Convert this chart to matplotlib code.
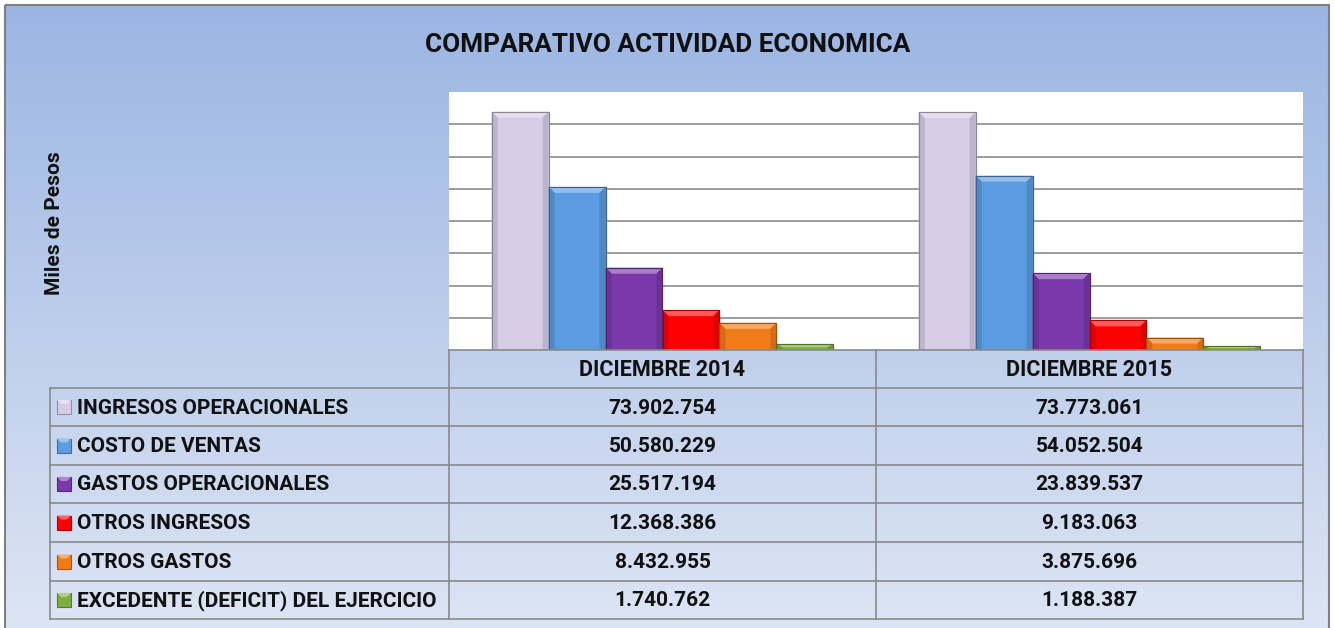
import numpy as np
import matplotlib as mpl
mpl.use('Agg')
import matplotlib.pyplot as plt
from matplotlib.patches import Rectangle, Polygon
from matplotlib.colors import to_rgb

plt.rcParams['font.family'] = ['Roboto', 'DejaVu Sans']

# ---- data ----
periods = ['DICIEMBRE 2014', 'DICIEMBRE 2015']
series = ['INGRESOS OPERACIONALES', 'COSTO DE VENTAS', 'GASTOS OPERACIONALES',
          'OTROS INGRESOS', 'OTROS GASTOS', 'EXCEDENTE (DEFICIT) DEL EJERCICIO']
values_2014 = [73902754, 50580229, 25517194, 12368386, 8432955, 1740762]
values_2015 = [73773061, 54052504, 23839537, 9183063, 3875696, 1188387]
colors = ['#D6CCE6', '#5B9BDF', '#7A38A8', '#FF0000', '#F07B18', '#7EAE3E']

title = 'COMPARATIVO ACTIVIDAD ECONOMICA'
ylabel = 'Miles de Pesos'

W, H = 1335, 628


def fmt(v):
    return f'{v:,}'.replace(',', '.')


def mix(c, other, t):
    a = np.array(to_rgb(c))
    b = np.array(to_rgb(other))
    return tuple(a * (1 - t) + b * t)


fig = plt.figure(figsize=(W / 100, H / 100), dpi=100)

# background gradient + frame, in pixel coords
bg = fig.add_axes([0, 0, 1, 1])
bg.set_xlim(0, W)
bg.set_ylim(H, 0)
bg.axis('off')
top = np.array([155, 181, 227]) / 255
bot = np.array([222, 230, 244]) / 255
t = np.linspace(0, 1, 256)[:, None, None]
grad = top * (1 - t) + bot * t
grad = np.repeat(grad, 2, axis=1)
bg.imshow(grad, extent=[5, 1329, 640, 5], aspect='auto', zorder=0)
bg.add_patch(Rectangle((5, 5), 1324, 640, fill=False, ec='#7F7F7F', lw=1.5, zorder=1))
bg.text(668, 45, title, ha='center', va='center', fontsize=18.8, fontweight='bold', color='#111111')
bg.text(55, 223, ylabel, ha='center', va='center', rotation=90, fontsize=15, fontweight='bold', color='#111111')

# ---- bar chart ----
ax = fig.add_axes([449 / W, 1 - 350 / H, (1303 - 449) / W, (350 - 92) / H])
ax.set_facecolor('white')
n = len(series)
group_w = 0.8
bw = group_w / n
x = np.arange(len(periods))
ymax = 80e6
ax.set_xlim(-0.5, len(periods) - 0.5)
ax.set_ylim(0, ymax)
ax.set_yticks(np.arange(10e6, ymax, 10e6))
ax.grid(axis='y', color='#8C8C8C', lw=1.2, zorder=0)
ax.tick_params(left=False, bottom=False, labelleft=False, labelbottom=False)
for s in ax.spines.values():
    s.set_visible(False)

data = np.array([values_2014, values_2015]).T
px_x = (1303 - 449) / len(periods)
px_y = (350 - 92) / ymax
bev = 6
for i in range(n):
    xs = x - group_w / 2 + bw * (i + 0.5)
    bars = ax.bar(xs, data[i], bw, color=colors[i], edgecolor=mix(colors[i], 'black', 0.35),
                  lw=0.8, zorder=2)
    for b in bars:
        x0, w, h = b.get_x(), b.get_width(), b.get_height()
        dx = bev / px_x
        dy = min(bev / px_y, h / 2)
        x1 = x0 + w
        topc = mix(colors[i], 'white', 0.35)
        sidec = mix(colors[i], 'black', 0.12)
        ax.add_patch(Polygon([(x0, h), (x1, h), (x1 - dx, h - dy), (x0 + dx, h - dy)],
                             closed=True, fc=topc, ec='none', zorder=3))
        ax.add_patch(Polygon([(x0, 0), (x0, h), (x0 + dx, h - dy), (x0 + dx, 0)],
                             closed=True, fc=sidec, ec='none', zorder=3))
        ax.add_patch(Polygon([(x1, 0), (x1, h), (x1 - dx, h - dy), (x1 - dx, 0)],
                             closed=True, fc=sidec, ec='none', zorder=3))
        ax.add_patch(Rectangle((x0, 0), w, h, fill=False, ec=mix(colors[i], 'black', 0.35),
                               lw=0.8, zorder=4))

# ---- data table ----
tb = fig.add_axes([0, 0, 1, 1])
tb.set_xlim(0, W)
tb.set_ylim(H, 0)
tb.axis('off')
line_c = '#8A8A8A'
col_x = [50, 449, 876, 1303]
row_y = [350, 388, 426, 465, 503, 542, 581, 619]
fs = 15
tb.plot([449, 1303], [350, 350], color=line_c, lw=1.2)
for k, p in enumerate(periods):
    tb.text((col_x[k + 1] + col_x[k + 2]) / 2, (row_y[0] + row_y[1]) / 2 + 1, p,
            ha='center', va='center', fontsize=15.5, fontweight='bold', color='#111111')
for xx in col_x[1:]:
    tb.plot([xx, xx], [row_y[0], row_y[-1]], color=line_c, lw=1.2)
tb.plot([50, 50], [row_y[1], row_y[-1]], color=line_c, lw=1.2)
for yy in row_y[1:]:
    tb.plot([50, 1303], [yy, yy], color=line_c, lw=1.2)
for i in range(n):
    yc = (row_y[i + 1] + row_y[i + 2]) / 2
    tb.add_patch(Rectangle((57, yc - 7), 14, 14, fc=colors[i], ec=mix(colors[i], 'black', 0.3), lw=0.8))
    tb.add_patch(Polygon([(57, yc - 7), (71, yc - 7), (67, yc - 3), (61, yc - 3)], closed=True,
                         fc=mix(colors[i], 'white', 0.4), ec='none'))
    tb.text(77, yc + 1, series[i], ha='left', va='center', fontsize=fs, fontweight='bold', color='#111111')
    for k in range(len(periods)):
        tb.text((col_x[k + 1] + col_x[k + 2]) / 2, yc + 1, fmt(int(data[i][k])),
                ha='center', va='center', fontsize=fs, fontweight='bold', color='#111111')

fig.savefig('out.png', dpi=100)
